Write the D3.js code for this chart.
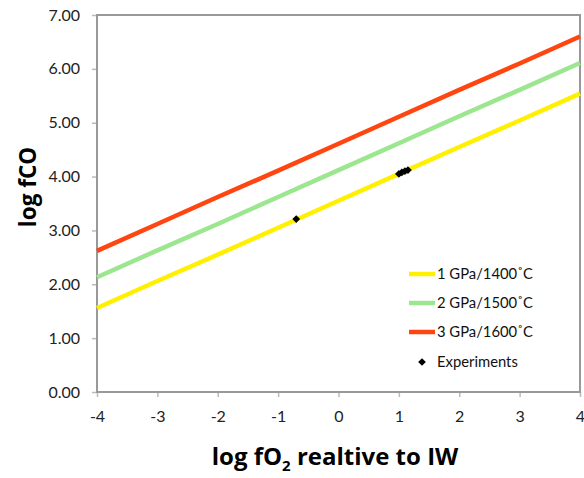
<!DOCTYPE html>
<html><head><meta charset="utf-8">
<script src="https://cdn.jsdelivr.net/npm/d3@7"></script>
<style>body{margin:0;background:#fff;} svg{display:block;}</style>
</head><body>
<svg id="c" width="584" height="478"></svg>
<script>
const xValues = [-4, -3, -2, -1, 0, 1, 2, 3, 4];
const series1 = [1.56, 2.06, 2.55, 3.05, 3.55, 4.05, 4.55, 5.04, 5.54]; // 1 GPa/1400°C
const series2 = [2.13, 2.63, 3.12, 3.62, 4.12, 4.62, 5.12, 5.61, 6.11]; // 2 GPa/1500°C
const series3 = [2.62, 3.12, 3.62, 4.11, 4.61, 5.11, 5.61, 6.10, 6.60]; // 3 GPa/1600°C
const seriesNames = ["1 GPa/1400˚C", "2 GPa/1500˚C", "3 GPa/1600˚C"];
const expX = [-0.7, 1.0, 1.05, 1.1, 1.15];
const expY = [3.21, 4.05, 4.08, 4.10, 4.12];
const xTicks = [-4, -3, -2, -1, 0, 1, 2, 3, 4];
const yTicks = [0, 1, 2, 3, 4, 5, 6, 7];

const colors = ["#FFF000", "#9BE68F", "#FF4510"];
const font = "Lato, 'Open Sans', sans-serif";
const tfont = "'Open Sans', Lato, sans-serif";
const svg = d3.select("#c");
const L = 97, R = 580, T = 15, B = 392;
const x = d3.scaleLinear().domain([-4, 4]).range([L, R]);
const y = d3.scaleLinear().domain([0, 7]).range([B, T]);

// axes
const yAxis = svg.append("g").attr("transform", `translate(${L},0)`)
  .call(d3.axisLeft(y).tickValues(yTicks).tickFormat(d3.format(".2f")).tickSize(5).tickPadding(12));
const xAxis = svg.append("g").attr("transform", `translate(0,${B})`)
  .call(d3.axisBottom(x).tickValues(xTicks).tickFormat(d3.format("d")).tickSize(5).tickPadding(14));
[yAxis, xAxis].forEach(a => {
  a.select(".domain").remove();
  a.selectAll(".tick line").attr("stroke", "#bbb").attr("stroke-width", 1.5);
  a.selectAll("text").attr("font-family", font).attr("font-size", 16).attr("fill", "#222");
});
xAxis.selectAll("text").text(d => d < 0 ? "-" + Math.abs(d) : d);

// plot frame
svg.append("rect").attr("x", L).attr("y", T).attr("width", R - L).attr("height", B - T)
  .attr("fill", "none").attr("stroke", "#999").attr("stroke-width", 2);

const line = d3.line().x((d, i) => x(xValues[i])).y(d => y(d));
[series1, series2, series3].forEach((s, i) => {
  svg.append("path").datum(s).attr("d", line).attr("fill", "none")
    .attr("stroke", colors[i]).attr("stroke-width", 4.5).attr("stroke-linecap", "butt");
});

// experiments
const marker = d3.symbol().type(d3.symbolSquare).size(30);
svg.append("g").selectAll("path").data(expX).join("path")
  .attr("transform", (d, i) => `translate(${x(d)},${y(expY[i])}) rotate(45)`)
  .attr("d", marker)
  .attr("fill", "#000");

// legend
const lg = svg.append("g");
const legY = [274, 303, 332];
seriesNames.forEach((n, i) => {
  lg.append("line").attr("x1", 409).attr("x2", 435).attr("y1", legY[i]).attr("y2", legY[i])
    .attr("stroke", colors[i]).attr("stroke-width", 4.5);
  lg.append("text").attr("x", 437).attr("y", legY[i]).attr("dy", "0.35em")
    .attr("font-family", font).attr("font-size", 14.8).attr("fill", "#111").text(n);
});
lg.append("path").attr("transform", "translate(422,362) rotate(45)")
  .attr("d", marker).attr("fill", "#000");
lg.append("text").attr("x", 437).attr("y", 362).attr("dy", "0.35em")
  .attr("font-family", font).attr("font-size", 14.8).attr("fill", "#111").text("Experiments");

// titles
svg.append("text").attr("transform", "translate(28,187) rotate(-90)")
  .attr("text-anchor", "middle").attr("dy", "0.35em")
  .attr("font-family", tfont).attr("font-weight", "bold").attr("font-size", 22.5).attr("fill", "#000")
  .text("log fCO");
const xt = svg.append("text").attr("x", 335).attr("y", 457).attr("text-anchor", "middle").attr("dy", "0.35em")
  .attr("font-family", tfont).attr("font-weight", "bold").attr("font-size", 24).attr("fill", "#000");
xt.append("tspan").text("log fO");
xt.append("tspan").attr("font-size", 15).attr("dy", "0.35em").text("2");
xt.append("tspan").attr("dy", "-0.23em").text(" realtive to IW");
</script>
</body></html>
